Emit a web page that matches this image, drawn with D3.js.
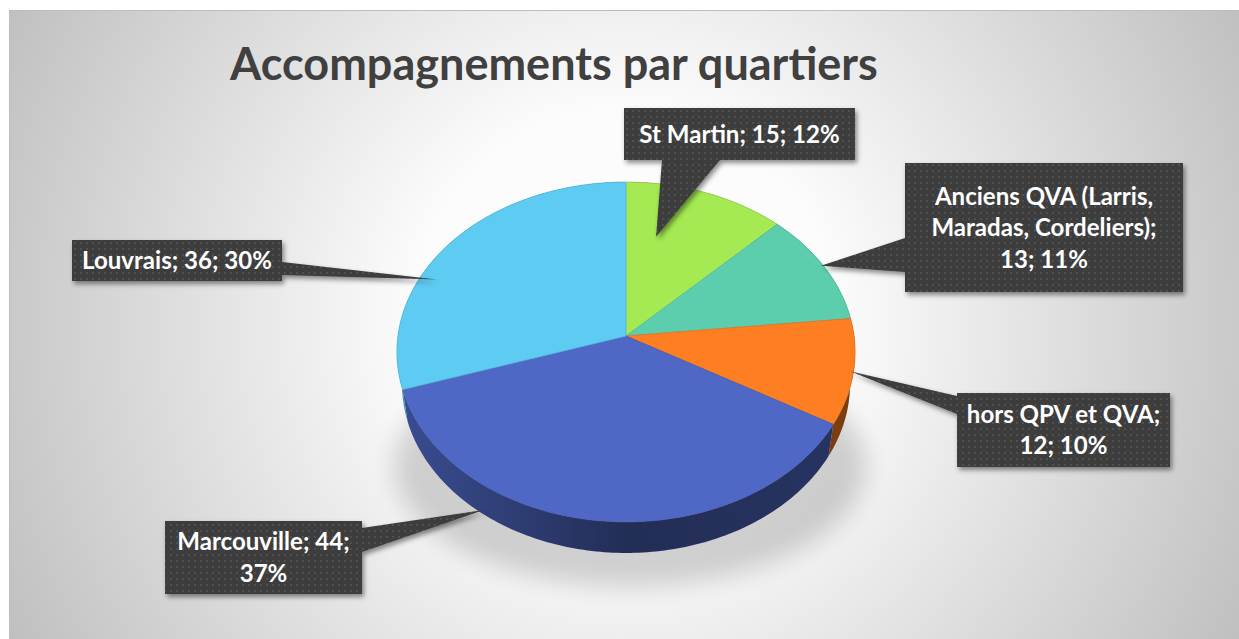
<!DOCTYPE html>
<html>
<head>
<meta charset="utf-8">
<script src="https://cdn.jsdelivr.net/npm/d3@7/dist/d3.min.js"></script>
<style>
  body { margin: 0; background: #fff; }
  svg { display: block; }
</style>
</head>
<body>
<div id="chart"></div>
<script>
// data
const categories = ["St Martin", "Anciens QVA (Larris, Maradas, Cordeliers)", "hors QPV et QVA", "Marcouville", "Louvrais"];
const values = [15, 13, 12, 44, 36];
const percents = ["12%", "11%", "10%", "37%", "30%"];
const labelLines = [
  ["St Martin; 15; 12%"],
  ["Anciens QVA (Larris,", "Maradas, Cordeliers);", "13; 11%"],
  ["hors QPV et QVA;", "12; 10%"],
  ["Marcouville; 44;", "37%"],
  ["Louvrais; 36; 30%"]
];
const colors = ["#a5ea52", "#5cceae", "#fd7f21", "#4f68c6", "#5ecbf3"];
const title = "Accompagnements par quartiers";

// callout layout (box + where the tail points on the pie)
const callouts = [
  { x: 624, y: 108, w: 231, h: 52, tip: { a: 12.6, r: 0.64, y: 0 }, base: [[662, 160], [720, 160]] },
  { x: 905, y: 163, w: 278, h: 129, tip: { a: 64, r: 0.99, y: 0 }, base: [[905, 238], [905, 272]] },
  { x: 957, y: 393, w: 213, h: 74, tip: { a: 102, r: 0.985, y: 0 }, base: [[957, 396], [957, 414]] },
  { x: 165, y: 521, w: 197, h: 73, tip: { a: 216, r: 1, y: -0.18 }, base: [[362, 528], [362, 552]] },
  { x: 72, y: 240, w: 210, h: 41, tip: { a: 292, r: 0.925, y: 0 }, base: [[282, 262], [282, 275]] }
];

const W = 1239, H = 639;
const svg = d3.select('#chart').append('svg').attr('width', W).attr('height', H);
const defs = svg.append('defs');

// fond radial
const bg = defs.append('radialGradient').attr('id', 'bg')
  .attr('gradientUnits', 'userSpaceOnUse')
  .attr('cx', 624).attr('cy', 320).attr('r', 720);
bg.append('stop').attr('offset', '0').attr('stop-color', '#ffffff');
bg.append('stop').attr('offset', '0.3').attr('stop-color', '#fbfbfb');
bg.append('stop').attr('offset', '1').attr('stop-color', '#bcbcbc');

svg.append('rect').attr('x', 9.5).attr('y', 10.5).attr('width', W - 9).attr('height', H - 10)
  .attr('fill', 'url(#bg)').attr('stroke', '#bdbdbd').attr('stroke-width', 1);

// motif pointillé des étiquettes
const pat = defs.append('pattern').attr('id', 'dots')
  .attr('patternUnits', 'userSpaceOnUse').attr('width', 6).attr('height', 6);
pat.append('rect').attr('width', 6).attr('height', 6).attr('fill', '#3c3c3c');
pat.append('circle').attr('cx', 3).attr('cy', 3).attr('r', 0.9).attr('fill', '#5a5a5a');

const shadow = defs.append('filter').attr('id', 'shadow')
  .attr('x', '-20%').attr('y', '-20%').attr('width', '140%').attr('height', '160%');
shadow.append('feDropShadow').attr('dx', 2).attr('dy', 3).attr('stdDeviation', 2.5)
  .attr('flood-color', '#000').attr('flood-opacity', 0.45);

const blur = defs.append('filter').attr('id', 'blur')
  .attr('x', '-30%').attr('y', '-30%').attr('width', '160%').attr('height', '160%');
blur.append('feGaussianBlur').attr('stdDeviation', 12);

// projection 3D (disque incliné, perspective)
const cx = 626, cy = 336;
const D = 7.17, F = 1635, elev = 47.6 * Math.PI / 180, depthH = 0.214;
function project(theta, r, y) {
  const X = r * Math.sin(theta), Z = -r * Math.cos(theta);
  const dist = D - y * Math.sin(elev) - Z * Math.cos(elev);
  return [cx + F * X / dist, cy - F * (y * Math.cos(elev) - Z * Math.sin(elev)) / dist];
}
const rad = d => d * Math.PI / 180;

const pie = d3.pie().sort(null).value(d => d);
const arcs = pie(values);

function rimPoints(a0, a1, y) {
  const n = Math.max(2, Math.ceil((a1 - a0) / rad(1)));
  return d3.range(n + 1).map(i => project(a0 + (a1 - a0) * i / n, 1, y));
}
const line = d3.line();

// ombre portée sous le camembert
svg.append('ellipse').attr('cx', cx + 4).attr('cy', cy + 130).attr('rx', 235).attr('ry', 120)
  .attr('fill', '#000').attr('opacity', 0.16).attr('filter', 'url(#blur)');

const pieG = svg.append('g');

// côtés
arcs.forEach((d, i) => {
  const c = d3.color(colors[i]);
  const g = defs.append('linearGradient').attr('id', 'side' + i)
    .attr('gradientUnits', 'userSpaceOnUse').attr('x1', 397).attr('x2', 852).attr('y1', 0).attr('y2', 0);
  g.append('stop').attr('offset', '0').attr('stop-color', c.darker(0.85));
  g.append('stop').attr('offset', '0.5').attr('stop-color', c.darker(2.3));
  g.append('stop').attr('offset', '1').attr('stop-color', c.darker(2.0));
  const top = rimPoints(d.startAngle, d.endAngle, 0);
  const bot = rimPoints(d.startAngle, d.endAngle, -depthH).reverse();
  pieG.append('path').attr('d', line(top.concat(bot)) + 'Z')
    .attr('fill', 'url(#side' + i + ')');
});

// dessus
arcs.forEach((d, i) => {
  const pts = [project(0, 0, 0)].concat(rimPoints(d.startAngle, d.endAngle, 0));
  pieG.append('path').attr('d', line(pts) + 'Z')
    .attr('fill', colors[i])
    .attr('stroke', d3.color(colors[i]).darker(0.3)).attr('stroke-width', 0.8)
    .attr('stroke-linejoin', 'round');
});

// titre
const titleText = svg.append('text').attr('x', 554).attr('y', 80)
  .attr('text-anchor', 'middle').attr('fill', '#404040')
  .style('font-family', 'Lato, "Open Sans", sans-serif').style('font-weight', 700)
  .style('font-size', '44px').text(title);
const tw = titleText.node().getComputedTextLength();
titleText.style('font-size', (44 * 648 / tw) + 'px');

// taille de police des étiquettes calée sur la largeur de "Louvrais; 36; 30%"
const probe = svg.append('text').style('font-family', 'Lato, "Open Sans", sans-serif')
  .style('font-weight', 700).style('font-size', '20px').text(labelLines[4][0]);
const fs = 20 * 190 / probe.node().getComputedTextLength();
probe.remove();

// étiquettes
callouts.forEach((c, i) => {
  const g = svg.append('g').attr('filter', 'url(#shadow)');
  const t = project(rad(c.tip.a), c.tip.r, c.tip.y);
  g.append('path').attr('d', line([c.base[0], t, c.base[1]]) + 'Z').attr('fill', 'url(#dots)');
  g.append('rect').attr('x', c.x).attr('y', c.y).attr('width', c.w).attr('height', c.h)
    .attr('fill', 'url(#dots)');
  const lines = labelLines[i];
  const mid = c.y + c.h / 2;
  svg.append('g').selectAll('text').data(lines).join('text')
    .attr('x', c.x + c.w / 2)
    .attr('y', (l, j) => mid + (j - (lines.length - 1) / 2) * 31.5 + 8.5)
    .attr('text-anchor', 'middle').attr('fill', '#ffffff')
    .style('font-family', 'Lato, "Open Sans", sans-serif').style('font-weight', 700)
    .style('font-size', fs + 'px')
    .text(l => l);
});
</script>
</body>
</html>
